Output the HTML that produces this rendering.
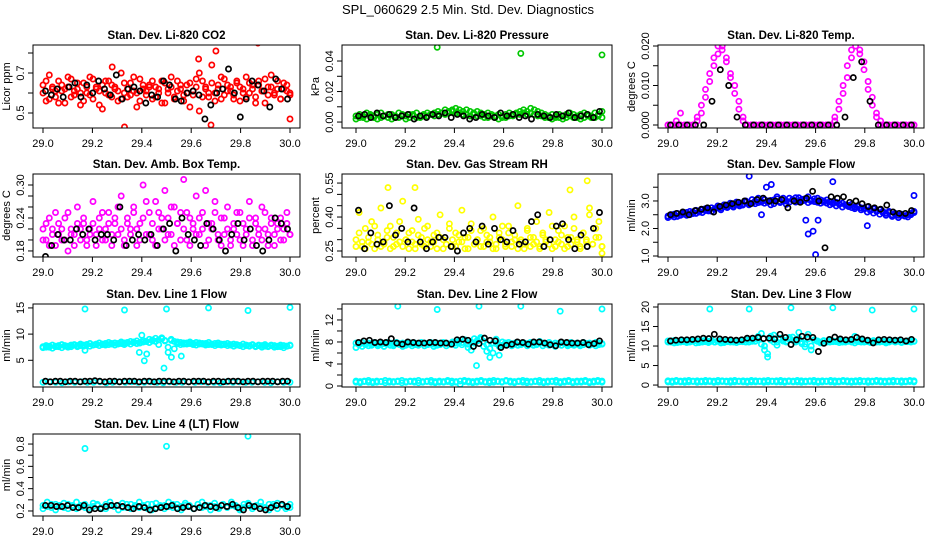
<!DOCTYPE html>
<html><head><meta charset="utf-8"><style>
html,body{margin:0;padding:0;background:#fff;}
svg{display:block;font-family:"Liberation Sans",Arial,sans-serif;}
</style></head><body>
<svg id="chart" width="936" height="540" viewBox="0 0 936 540">
<text x="468" y="14" text-anchor="middle" font-size="13">SPL_060629  2.5 Min. Std. Dev. Diagnostics</text>
</svg>
<script>
// ---- data arrays ----
const xTicks = [29.0,29.2,29.4,29.6,29.8,30.0];
const xTickLabels = ["29.0","29.2","29.4","29.6","29.8","30.0"];

const co2Red1 = [0.64,0.56,0.69,0.62,0.58,0.66,0.61,0.55,0.63,0.67,0.59,0.62,0.54,0.65,0.60,0.68,0.57,0.63,0.61,0.52,0.66,0.59,0.64,0.62,0.56,0.70,0.60,0.58,0.65,0.61,0.53,0.67,0.62,0.59,0.64,0.57,0.63,0.60,0.66,0.55,0.62,0.68,0.58,0.61,0.64,0.56,0.60,0.65,0.59,0.63,0.51,0.66,0.62,0.58,0.74,0.60,0.64,0.57,0.67,0.61,0.63,0.59,0.65,0.56,0.62,0.68,0.60,0.64,0.58,0.66,0.61,0.55,0.63,0.69,0.59,0.62,0.57,0.65,0.61,0.60];
const co2Red2 = [0.60,0.66,0.57,0.63,0.61,0.55,0.64,0.62,0.68,0.58,0.61,0.65,0.60,0.56,0.63,0.59,0.67,0.62,0.54,0.64,0.60,0.66,0.58,0.63,0.61,0.57,0.65,0.62,0.59,0.68,0.60,0.56,0.64,0.61,0.63,0.66,0.58,0.62,0.55,0.65,0.60,0.63,0.57,0.66,0.62,0.59,0.64,0.53,0.61,0.67,0.70,0.58,0.63,0.60,0.65,0.56,0.62,0.68,0.59,0.64,0.61,0.57,0.66,0.63,0.60,0.58,0.65,0.62,0.55,0.64,0.61,0.67,0.59,0.63,0.60,0.66,0.57,0.62,0.64,0.59];
const co2Black = [0.61,0.59,0.62,0.58,0.63,0.65,0.58,0.64,0.60,0.66,0.62,0.59,0.69,0.57,0.62,0.63,0.61,0.55,0.59,0.58,0.66,0.64,0.57,0.56,0.60,0.61,0.59,0.47,0.54,0.60,0.62,0.72,0.60,0.48,0.57,0.66,0.64,0.61,0.53,0.67,0.62,0.57];
const co2OutX = [29.33,29.70,29.87,29.63,30.0,29.68,29.28];
const co2OutY = [0.43,0.81,0.85,0.77,0.47,0.44,0.73];

const presGreen1 = [0.004,0.005,0.004,0.006,0.005,0.004,0.005,0.006,0.004,0.005,0.005,0.004,0.006,0.005,0.004,0.005,0.005,0.006,0.004,0.005,0.006,0.005,0.006,0.007,0.006,0.008,0.007,0.008,0.009,0.008,0.007,0.008,0.007,0.006,0.007,0.006,0.005,0.006,0.005,0.004,0.005,0.004,0.005,0.006,0.005,0.006,0.007,0.008,0.007,0.009,0.008,0.007,0.006,0.005,0.004,0.005,0.004,0.005,0.004,0.005,0.006,0.005,0.004,0.005,0.006,0.005,0.004,0.006,0.005,0.007];
const presGreen2 = [0.002,0.003,0.003,0.002,0.004,0.003,0.002,0.003,0.004,0.003,0.002,0.003,0.003,0.004,0.002,0.003,0.004,0.003,0.003,0.004,0.004,0.005,0.004,0.005,0.006,0.005,0.006,0.007,0.006,0.006,0.005,0.005,0.004,0.005,0.004,0.004,0.003,0.003,0.004,0.003,0.002,0.003,0.003,0.004,0.004,0.005,0.005,0.006,0.005,0.006,0.005,0.004,0.004,0.003,0.003,0.002,0.003,0.003,0.002,0.003,0.004,0.003,0.003,0.002,0.003,0.004,0.003,0.003,0.004,0.003];
const presBlack = [0.004,0.005,0.003,0.006,0.004,0.005,0.003,0.004,0.005,0.002,0.004,0.003,0.005,0.004,0.006,0.003,0.005,0.004,0.002,0.003,0.005,0.004,0.003,0.006,0.004,0.005,0.003,0.004,0.002,0.005,0.004,0.003,0.005,0.004,0.006,0.003,0.004,0.005,0.003,0.007];
const presOutX = [29.33,29.67,30.0];
const presOutY = [0.049,0.045,0.044];

const tempMag1 = [0,0,0.001,0,0,0,0,0.002,0.005,0.009,0.013,0.017,0.020,0.019,0.016,0.012,0.008,0.004,0.001,0,0,0,0,0,0,0,0,0,0,0,0,0,0,0,0,0,0,0,0,0,0.002,0.006,0.010,0.015,0.019,0.021,0.018,0.014,0.009,0.005,0.002,0,0,0,0,0,0,0,0,0];
const tempMag2 = [0,0,0,0.003,0,0,0,0.001,0.003,0.007,0.011,0.015,0.018,0.020,0.017,0.013,0.010,0.006,0.002,0,0,0,0,0,0,0,0,0,0,0,0,0,0,0,0,0,0,0,0,0,0.001,0.004,0.008,0.012,0.017,0.020,0.019,0.016,0.011,0.007,0.003,0.001,0,0,0,0,0,0,0,0];
const tempBlack = [0,0,0,0,0,0.006,0.014,0.010,0.002,0,0,0,0,0,0,0,0,0,0,0,0,0.002,0.012,0.016,0.006,0,0,0,0,0];

const ambMag1 = [0.20,0.23,0.19,0.22,0.25,0.21,0.20,0.24,0.18,0.22,0.21,0.26,0.20,0.23,0.19,0.22,0.27,0.21,0.24,0.20,0.22,0.25,0.19,0.23,0.21,0.28,0.20,0.24,0.22,0.26,0.19,0.23,0.30,0.21,0.25,0.20,0.27,0.22,0.24,0.29,0.21,0.26,0.19,0.23,0.25,0.31,0.20,0.24,0.22,0.28,0.21,0.25,0.19,0.23,0.22,0.27,0.20,0.24,0.21,0.26,0.19,0.22,0.25,0.20,0.23,0.21,0.27,0.19,0.24,0.22,0.20,0.25,0.21,0.23,0.19,0.22,0.24,0.20,0.23,0.21];
const ambMag2 = [0.22,0.20,0.24,0.21,0.19,0.23,0.22,0.20,0.25,0.21,0.19,0.23,0.22,0.24,0.20,0.21,0.23,0.19,0.22,0.25,0.20,0.23,0.21,0.24,0.26,0.22,0.19,0.23,0.21,0.25,0.22,0.20,0.24,0.27,0.21,0.23,0.19,0.25,0.22,0.20,0.24,0.21,0.26,0.23,0.20,0.22,0.25,0.19,0.23,0.21,0.24,0.22,0.29,0.20,0.23,0.25,0.21,0.19,0.24,0.22,0.20,0.23,0.21,0.25,0.19,0.22,0.24,0.20,0.23,0.21,0.26,0.22,0.19,0.24,0.21,0.23,0.20,0.22,0.25,0.21];
const ambBlack = [0.17,0.19,0.21,0.20,0.20,0.22,0.21,0.22,0.20,0.21,0.21,0.20,0.26,0.19,0.20,0.21,0.20,0.21,0.19,0.22,0.23,0.18,0.24,0.21,0.20,0.19,0.23,0.22,0.20,0.18,0.21,0.23,0.20,0.22,0.19,0.18,0.20,0.24,0.23,0.22];

const rhYel1 = [0.30,0.42,0.27,0.35,0.29,0.38,0.26,0.32,0.44,0.28,0.31,0.36,0.27,0.33,0.29,0.47,0.30,0.26,0.34,0.28,0.39,0.31,0.27,0.36,0.29,0.32,0.26,0.41,0.30,0.28,0.35,0.27,0.33,0.29,0.43,0.31,0.26,0.37,0.28,0.30,0.34,0.27,0.32,0.29,0.40,0.26,0.31,0.36,0.28,0.33,0.27,0.30,0.45,0.29,0.26,0.35,0.31,0.28,0.38,0.27,0.32,0.29,0.42,0.26,0.30,0.34,0.28,0.36,0.27,0.31,0.40,0.29,0.26,0.33,0.30,0.44,0.28,0.35,0.31,0.27];
const rhYel2 = [0.27,0.33,0.29,0.26,0.31,0.28,0.36,0.30,0.27,0.29,0.34,0.26,0.31,0.28,0.38,0.27,0.30,0.33,0.29,0.26,0.32,0.28,0.35,0.30,0.27,0.29,0.33,0.31,0.26,0.28,0.37,0.30,0.27,0.32,0.29,0.26,0.31,0.34,0.28,0.30,0.27,0.35,0.29,0.31,0.26,0.28,0.33,0.30,0.27,0.36,0.29,0.32,0.26,0.30,0.28,0.34,0.27,0.31,0.29,0.26,0.33,0.30,0.28,0.36,0.27,0.29,0.32,0.26,0.31,0.28,0.35,0.30,0.27,0.33,0.29,0.41,0.28,0.31,0.38,0.27];
const rhBlack = [0.43,0.26,0.33,0.28,0.29,0.45,0.32,0.35,0.29,0.44,0.29,0.26,0.29,0.31,0.31,0.27,0.25,0.33,0.35,0.29,0.36,0.28,0.35,0.30,0.29,0.34,0.28,0.29,0.38,0.41,0.27,0.30,0.36,0.37,0.30,0.26,0.32,0.27,0.35,0.42];
const rhOutX = [29.13,29.24,29.94,29.87,30.0];
const rhOutY = [0.53,0.53,0.56,0.52,0.24];

const flowBlue1 = [2.45,2.50,2.42,2.55,2.48,2.52,2.58,2.50,2.60,2.55,2.62,2.58,2.65,2.70,2.63,2.72,2.75,2.68,2.80,2.76,2.85,2.78,2.88,2.82,2.90,2.95,2.86,2.92,3.00,2.94,2.98,3.05,2.95,3.02,2.90,3.08,2.98,3.10,3.00,2.96,3.05,3.12,2.98,3.06,3.02,3.15,3.00,3.08,2.95,3.04,3.00,2.92,2.98,2.90,2.95,2.88,2.92,2.85,2.80,2.88,2.78,2.82,2.75,2.70,2.78,2.65,2.72,2.62,2.68,2.58,2.55,2.62,2.50,2.55,2.48,2.52,2.45,2.50,2.55,2.58];
const flowBlue2 = [2.40,2.45,2.52,2.44,2.50,2.56,2.48,2.62,2.54,2.66,2.60,2.68,2.72,2.64,2.75,2.70,2.82,2.74,2.86,2.80,2.92,2.84,2.96,2.88,2.85,3.00,2.92,3.05,2.90,3.10,2.96,2.92,3.00,2.86,3.04,3.15,2.94,3.02,2.88,3.10,3.04,2.96,3.12,3.00,3.08,2.94,3.02,2.98,3.10,2.92,2.96,3.04,2.86,2.94,2.82,2.90,2.78,2.86,2.84,2.76,2.72,2.80,2.68,2.74,2.60,2.70,2.56,2.64,2.52,2.62,2.48,2.58,2.44,2.52,2.40,2.48,2.46,2.42,2.50,2.62];
const flowBlack = [2.5,2.55,2.6,2.5,2.65,2.7,2.75,2.6,2.8,2.85,2.9,2.95,3.0,2.9,3.05,3.1,3.0,3.0,3.05,2.75,3.0,2.95,3.1,3.35,3.0,1.3,3.15,3.1,3.15,2.95,3.0,2.9,2.8,2.75,2.7,2.85,2.6,2.55,2.55,2.65];
const flowOutX = [29.33,29.40,29.42,29.67,29.57,29.59,29.60,29.61,29.81,30.0,29.56,29.38];
const flowOutY = [3.9,3.5,3.6,3.7,1.8,1.9,1.05,2.3,2.1,3.2,2.3,2.5];

const l1Cyan1 = [7.6,7.8,7.5,7.9,7.7,7.6,8.0,7.8,7.7,7.9,8.0,7.8,8.1,7.9,8.0,8.2,7.9,8.1,8.3,8.0,8.2,8.4,8.1,8.3,8.2,8.5,8.3,8.4,8.6,8.5,8.7,8.4,8.8,8.6,9.0,8.7,9.2,8.9,9.3,8.8,7.5,9.0,8.6,8.2,8.4,8.1,8.3,8.5,8.2,8.4,8.3,8.1,8.2,8.4,8.0,8.2,8.3,8.1,8.0,8.2,7.9,8.1,8.0,7.8,8.1,7.9,7.8,8.0,7.7,7.9,7.8,8.0,7.7,7.9,7.8,7.6,7.9,7.8,7.7,7.9];
const l1Cyan2 = [7.4,7.5,7.7,7.3,7.6,7.8,7.4,7.7,7.5,7.6,7.9,7.6,7.8,7.7,8.0,7.7,7.9,8.0,7.8,8.1,7.9,8.0,8.2,7.9,8.1,8.2,8.0,8.3,8.1,8.4,8.2,8.3,8.5,8.6,8.4,8.9,8.6,8.0,9.1,8.7,6.5,8.8,7.2,8.5,8.0,8.3,8.1,8.2,8.0,7.9,8.1,8.2,7.9,8.0,8.1,7.8,8.0,7.9,8.1,7.8,8.0,7.7,7.9,7.8,7.6,7.8,7.7,7.9,7.6,7.8,7.5,7.7,7.6,7.8,7.5,7.7,7.6,7.4,7.7,7.8];
const l1CyanLow = [0.8,0.9,0.8,0.7,0.9,0.8,0.9,0.8,0.8,0.9,0.7,0.8,0.9,0.8,0.9,0.8,0.8,0.9,0.8,0.7,0.9,0.8,0.8,0.9,0.8,0.9,0.8,0.8,0.7,0.9,0.8,0.9,0.8,0.8,0.9,0.8,0.7,0.9,0.8,0.8];
const l1Black = [1.0,0.9,1.0,1.0,0.9,1.0,1.0,0.9,1.0,1.0,1.1,1.0,0.9,1.0,1.0,0.9,1.0,1.0,1.0,0.9,1.0,1.0,0.9,1.0,1.0,1.0,0.9,1.0,1.0,0.9,1.0,1.0,1.0,0.9,1.0,1.0,0.9,1.0,1.0,1.0,0.9,1.0,1.0,0.9,1.0,1.0,1.0,0.9,1.0,1.0];
const l1OutX = [29.17,29.33,29.5,29.67,29.83,30.0,29.39,29.41,29.49,29.52,29.56,29.17,29.42,29.40];
const l1OutY = [14.8,14.6,14.8,15.0,14.5,15.1,6.5,4.9,3.5,5.6,5.8,6.9,6.2,9.8];

const l2Cyan1 = [7.0,7.5,7.2,7.6,7.3,7.4,7.7,7.3,7.5,7.2,7.6,7.4,7.3,7.7,7.5,7.2,7.4,7.6,7.3,7.5,7.4,7.7,7.3,7.5,7.6,7.2,7.4,7.5,7.7,7.3,7.6,7.8,7.4,7.9,7.5,8.3,7.0,6.5,7.8,8.2,8.5,7.2,6.3,5.2,6.0,7.7,5.6,7.4,7.8,7.5,7.3,7.6,7.4,7.5,7.7,7.3,7.6,7.4,7.5,7.8,7.3,7.6,7.4,7.5,7.2,7.6,7.4,7.7,7.3,7.5,7.4,7.6,7.3,7.5,7.7,7.4,7.6,7.3,7.5,7.6];
const l2Cyan2 = [7.8,7.6,7.9,7.5,7.8,7.7,7.9,7.6,7.8,7.7,7.9,7.8,7.6,7.9,7.7,7.8,7.6,7.9,7.7,7.8,7.6,7.9,7.8,7.7,7.9,7.6,7.8,7.7,7.9,7.8,7.6,8.0,7.8,8.2,7.9,8.4,7.6,8.0,8.6,8.3,8.8,8.1,7.5,6.8,7.8,8.5,7.2,8.0,7.8,7.9,7.7,7.8,7.9,7.6,7.8,7.7,7.9,7.8,7.6,8.1,7.8,7.7,7.9,7.6,7.8,7.7,7.9,7.8,7.6,7.9,7.7,7.8,7.6,7.9,7.7,7.8,7.6,7.9,7.8,7.7];
const l2CyanLow1 = [0.7,0.6,0.8,0.7,0.6,0.7,0.8,0.6,0.7,0.7,0.8,0.6,0.7,0.8,0.7,0.6,0.7,0.8,0.7,0.6,0.7,0.7,0.8,0.6,0.7,0.3,0.8,0.7,0.6,0.7,0.8,0.7,0.6,0.7,0.8,0.7,0.9,0.7,0.6,0.8,0.7,0.6,0.7,0.8,0.7,0.6,0.7,0.8,0.7,0.6,0.7,0.8,0.6,0.7,0.7,0.8,0.6,0.7,0.8,0.7];
const l2CyanLow2 = [0.9,0.8,0.9,1.0,0.8,0.9,0.8,1.0,0.9,0.8,0.9,1.0,0.8,0.9,0.9,1.0,0.8,0.9,1.0,0.8,0.9,0.8,1.0,0.9,0.8,0.9,1.0,0.9,0.8,0.9,1.0,0.8,0.9,1.0,0.9,0.8,1.0,0.9,0.8,0.9,1.0,0.9,0.8,0.9,1.0,0.8,0.9,0.9,1.0,0.8,0.9,1.0,0.8,0.9,0.9,1.0,0.8,0.9,1.0,0.9];
const l2Black = [7.9,8.2,8.3,7.9,8.0,7.9,8.6,7.8,7.6,8.0,7.9,7.8,7.8,7.9,7.9,7.8,7.8,7.6,8.4,8.5,8.3,7.2,7.7,8.7,8.3,8.2,7.0,7.4,7.6,8.0,7.9,7.6,8.0,8.0,7.8,7.5,7.3,8.0,7.9,7.8,7.8,7.9,7.5,7.7,8.2];
const l2OutX = [29.17,29.33,29.5,29.67,29.83,30.0,29.49];
const l2OutY = [14.5,13.9,14.5,14.5,13.6,14.0,3.7];

const l3Cyan1 = [11.0,11.3,10.8,11.2,11.0,11.4,10.9,11.1,11.3,10.8,11.2,11.0,11.5,10.9,11.2,11.0,11.3,10.8,11.1,11.4,11.0,11.2,10.9,11.3,11.1,11.6,11.0,11.4,11.2,12.0,10.5,9.0,8.0,12.5,11.0,10.2,11.8,11.3,11.0,12.2,11.5,11.0,12.0,10.6,9.8,13.0,9.0,11.5,11.2,10.8,11.3,11.0,11.4,11.1,11.2,10.9,11.3,11.0,11.2,11.5,10.8,11.1,11.4,11.0,11.2,10.9,11.3,11.1,11.0,11.2,10.8,11.1,11.3,11.0,11.2,10.9,11.1,11.3,11.0,11.2];
const l3Cyan2 = [11.3,11.0,11.4,10.9,11.2,11.1,11.3,11.0,11.2,11.4,10.9,11.3,11.1,11.2,11.4,11.0,11.2,11.3,10.9,11.1,11.3,11.0,11.4,11.1,11.2,11.0,11.5,11.2,11.8,12.5,13.2,10.0,7.2,11.5,12.8,11.0,12.0,11.6,11.2,11.8,12.3,11.4,13.5,11.0,10.5,11.8,10.0,11.6,11.3,11.0,11.4,11.2,11.0,11.3,11.1,11.4,11.0,11.2,11.3,11.0,12.5,11.2,11.0,11.3,11.1,11.2,11.4,11.0,11.3,11.1,11.2,11.0,11.3,11.1,11.4,11.0,11.2,11.1,11.3,11.2];
const l3CyanLow1 = [0.8,0.7,0.9,0.8,0.7,0.8,0.9,0.7,0.8,0.8,0.9,0.7,0.8,0.9,0.8,0.7,0.8,0.9,0.8,0.7,0.8,0.8,0.9,0.7,0.8,0.9,0.8,0.8,0.7,0.9,0.8,0.8,0.7,0.8,0.9,0.8,0.7,0.8,0.9,0.8,0.7,0.8,0.9,0.8,0.7,0.8,0.8,0.9,0.7,0.8,0.9,0.8,0.7,0.8,0.8,0.9,0.7,0.8,0.9,0.8];
const l3CyanLow2 = [1.1,1.0,1.2,1.0,1.1,1.2,1.0,1.1,1.0,1.2,1.1,1.0,1.2,1.1,1.0,1.1,1.2,1.0,1.1,1.0,1.2,1.1,1.0,1.1,1.2,1.0,1.1,1.2,1.0,1.1,1.0,1.2,1.1,1.0,1.1,1.2,1.0,1.1,1.0,1.2,1.1,1.0,1.2,1.1,1.0,1.1,1.2,1.0,1.1,1.0,1.2,1.1,1.0,1.1,1.2,1.0,1.1,1.0,1.2,1.1];
const l3Black = [11.3,11.5,11.6,11.6,11.7,11.8,12.0,11.9,13.0,11.8,11.7,11.6,11.5,11.6,12.0,12.0,12.2,11.9,12.0,11.8,13.0,12.2,10.4,11.6,12.5,12.3,12.2,8.6,10.7,11.7,12.3,11.8,11.6,11.7,12.2,11.8,11.5,10.8,11.6,11.7,11.6,11.5,11.6,11.3,11.7];
const l3OutX = [29.17,29.33,29.5,29.67,29.83,30.0];
const l3OutY = [19.5,19.5,19.8,19.8,19.2,19.5];

const l4Cyan1 = [0.25,0.28,0.23,0.26,0.24,0.27,0.22,0.25,0.28,0.24,0.26,0.23,0.27,0.25,0.22,0.26,0.28,0.24,0.25,0.27,0.23,0.26,0.24,0.28,0.25,0.22,0.26,0.27,0.24,0.25,0.28,0.23,0.26,0.24,0.27,0.25,0.22,0.26,0.28,0.24,0.25,0.27,0.23,0.26,0.24,0.28,0.25,0.22,0.26,0.27,0.24,0.25,0.28,0.23,0.26,0.24,0.27,0.25,0.22,0.26];
const l4Cyan2 = [0.22,0.24,0.26,0.21,0.25,0.23,0.26,0.24,0.22,0.25,0.23,0.21,0.24,0.26,0.23,0.22,0.25,0.24,0.21,0.23,0.26,0.22,0.25,0.23,0.24,0.26,0.21,0.23,0.25,0.22,0.24,0.26,0.23,0.21,0.25,0.24,0.22,0.26,0.23,0.25,0.21,0.24,0.22,0.26,0.23,0.25,0.24,0.21,0.23,0.26,0.22,0.25,0.24,0.23,0.21,0.26,0.22,0.25,0.24,0.23];
const l4Black = [0.25,0.25,0.24,0.24,0.25,0.23,0.23,0.25,0.21,0.22,0.22,0.24,0.25,0.25,0.24,0.23,0.22,0.24,0.23,0.21,0.22,0.23,0.24,0.25,0.22,0.23,0.24,0.22,0.23,0.25,0.24,0.23,0.25,0.24,0.26,0.23,0.21,0.25,0.24,0.22,0.21,0.23,0.25,0.26,0.24];
const l4OutX = [29.17,29.5,29.83];
const l4OutY = [0.76,0.78,0.87];

const panelTitles = ["Stan. Dev. Li-820 CO2","Stan. Dev. Li-820 Pressure","Stan. Dev. Li-820 Temp.","Stan. Dev. Amb. Box Temp.","Stan. Dev. Gas Stream RH","Stan. Dev. Sample Flow","Stan. Dev. Line 1 Flow","Stan. Dev. Line 2 Flow","Stan. Dev. Line 3 Flow","Stan. Dev. Line 4 (LT) Flow"];
const yAxisTitles = ["Licor ppm","kPa","degrees C","degrees C","percent","ml/min","ml/min","ml/min","ml/min","ml/min"];

const RED="#ff0000",GRN="#00c800",MAG="#ff00ff",YEL="#ffff00",BLU="#0000ff",CYN="#00ffff",BLK="#000000";

const colBox=[[33,300,43,290],[342,612,356,602],[658,924,668,914]];
const rowBox=[[45,128],[174,257],[304,387],[434,516]];

const panels=[
 {name:"co2",c:0,r:0,ymin:0.425,ymax:0.84,ticks:[0.5,0.6,0.7,0.8],labs:{"0.5":"0.5","0.7":"0.7"},
  series:[[co2Red1,RED],[co2Red2,RED]],out:[[co2OutX,co2OutY,RED]],black:co2Black},
 {name:"pressure",c:1,r:0,ymin:-0.0039,ymax:0.0505,ticks:[0,0.01,0.02,0.03,0.04],labs:{"0":"0.00","0.02":"0.02","0.04":"0.04"},
  series:[[presGreen1,GRN],[presGreen2,GRN]],out:[[presOutX,presOutY,GRN]],black:presBlack},
 {name:"temp",c:2,r:0,ymin:-0.00076,ymax:0.02025,ticks:[0,0.005,0.01,0.015,0.02],labs:{"0":"0.000","0.01":"0.010","0.02":"0.020"},
  series:[[tempMag1,MAG],[tempMag2,MAG]],out:[],black:tempBlack},
 {name:"amb-temp",c:0,r:1,ymin:0.169,ymax:0.32,ticks:[0.18,0.2,0.22,0.24,0.26,0.28,0.3],labs:{"0.18":"0.18","0.24":"0.24","0.3":"0.30"},
  series:[[ambMag1,MAG],[ambMag2,MAG]],out:[],black:ambBlack},
 {name:"rh",c:1,r:1,ymin:0.2235,ymax:0.59,ticks:[0.25,0.3,0.35,0.4,0.45,0.5,0.55],labs:{"0.25":"0.25","0.4":"0.40","0.55":"0.55"},
  series:[[rhYel1,YEL],[rhYel2,YEL]],out:[[rhOutX,rhOutY,YEL]],black:rhBlack},
 {name:"sample-flow",c:2,r:1,ymin:0.964,ymax:3.98,ticks:[1,1.5,2,2.5,3,3.5],labs:{"1":"1.0","2":"2.0","3":"3.0"},
  series:[[flowBlue1,BLU],[flowBlue2,BLU]],out:[[flowOutX,flowOutY,BLU]],black:flowBlack},
 {name:"line1",c:0,r:2,ymin:-0.1,ymax:15.75,ticks:[5,10,15],labs:{"5":"5","10":"10","15":"15"},
  series:[[l1Cyan1,CYN],[l1Cyan2,CYN],[l1CyanLow,CYN]],out:[[l1OutX,l1OutY,CYN]],black:l1Black},
 {name:"line2",c:1,r:2,ymin:-0.18,ymax:14.9,ticks:[0,2,4,6,8,10,12,14],labs:{"0":"0","4":"4","8":"8","12":"12"},
  series:[[l2Cyan1,CYN],[l2Cyan2,CYN],[l2CyanLow1,CYN],[l2CyanLow2,CYN]],out:[[l2OutX,l2OutY,CYN]],black:l2Black},
 {name:"line3",c:2,r:2,ymin:-0.5,ymax:20.77,ticks:[0,5,10,15,20],labs:{"0":"0","5":"5","10":"10","15":"15","20":"20"},
  series:[[l3Cyan1,CYN],[l3Cyan2,CYN],[l3CyanLow1,CYN],[l3CyanLow2,CYN]],out:[[l3OutX,l3OutY,CYN]],black:l3Black},
 {name:"line4",c:0,r:3,ymin:0.155,ymax:0.89,ticks:[0.2,0.3,0.4,0.5,0.6,0.7,0.8],labs:{"0.2":"0.2","0.4":"0.4","0.6":"0.6","0.8":"0.8"},
  series:[[l4Cyan1,CYN],[l4Cyan2,CYN]],out:[[l4OutX,l4OutY,CYN]],black:l4Black}
];

const svg=document.getElementById('chart');
const NS="http://www.w3.org/2000/svg";
function mk(tag,attrs,parent){const e=document.createElementNS(NS,tag);for(const k in attrs)e.setAttribute(k,attrs[k]);(parent||svg).appendChild(e);return e;}

panels.forEach((p,pi)=>{
  const [bx0,bx1,dx0,dx1]=colBox[p.c];
  const [by0,by1]=rowBox[p.r];
  const xs=v=>dx0+(v-29)*(dx1-dx0);
  const ys=v=>by1-(v-p.ymin)/(p.ymax-p.ymin)*(by1-by0);
  const g=mk('g',{});
  
  
  const clip=mk('clipPath',{id:'clip'+pi},g);
  mk('rect',{x:bx0,y:by0,width:bx1-bx0,height:by1-by0},clip);

  const t=mk('text',{x:(bx0+bx1)/2,y:by0-6,'text-anchor':'middle','font-size':'11.5','font-weight':'bold'},g);
  t.textContent=panelTitles[pi];
  
  

  const yl=mk('text',{transform:`translate(${bx0-23},${(by0+by1)/2}) rotate(-90)`,'text-anchor':'middle','font-size':'11'},g);
  yl.textContent=yAxisTitles[pi];
  
  

  const pts=mk('g',{'clip-path':`url(#clip${pi})`,fill:'none','stroke-width':'1.7'},g);
  
  
  function dot(x,y,col){const c=mk('circle',{cx:xs(x).toFixed(1),cy:ys(y).toFixed(1),r:2.6,stroke:col},pts);
    
    }
  p.series.forEach(([arr,col])=>{arr.forEach((v,i)=>dot(29+i/(arr.length-1),v,col));});
  p.out.forEach(([ax,ay,col])=>{ax.forEach((x,i)=>dot(x,ay[i],col));});
  p.black.forEach((v,i)=>dot(29.01+i*0.98/(p.black.length-1),v,BLK));

  const box=mk('rect',{x:bx0,y:by0,width:bx1-bx0,height:by1-by0,fill:'none',stroke:'#000','stroke-width':'1'},g);
  
  

  xTicks.forEach((v,i)=>{
    const x=xs(v);
    mk('line',{x1:x,x2:x,y1:by1,y2:by1+5,stroke:'#000'},g);
    const tl=mk('text',{x:x,y:by1+19,'text-anchor':'middle','font-size':'11'},g);
    tl.textContent=xTickLabels[i];
    
    
  });
  p.ticks.forEach(v=>{
    const y=ys(v);
    mk('line',{x1:bx0-5,x2:bx0,y1:y,y2:y,stroke:'#000'},g);
    const key=String(+v.toFixed(4));
    if(p.labs[key]!==undefined){
      const tl=mk('text',{transform:`translate(${bx0-9},${y}) rotate(-90)`,'text-anchor':'middle','font-size':'11'},g);
      tl.textContent=p.labs[key];
      
      
    }
  });
});
</script>
</body></html>
